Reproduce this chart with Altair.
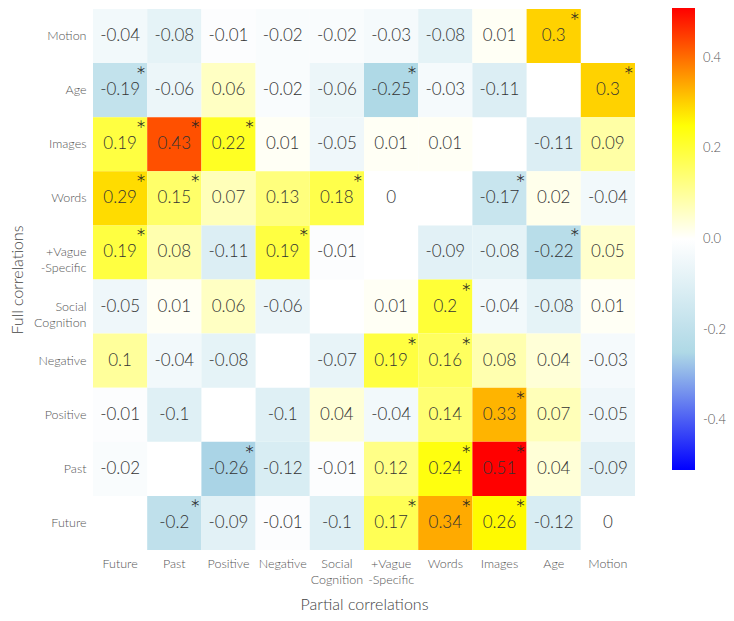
import altair as alt
import pandas as pd

cols = ["Future", "Past", "Positive", "Negative", "Social\nCognition",
        "+Vague\n-Specific", "Words", "Images", "Age", "Motion"]
rows = list(reversed(cols))  # top to bottom

N = None
values = {
    "Motion":            [-0.04, -0.08, -0.01, -0.02, -0.02, -0.03, -0.08, 0.01, 0.3, N],
    "Age":               [-0.19, -0.06, 0.06, -0.02, -0.06, -0.25, -0.03, -0.11, N, 0.3],
    "Images":            [0.19, 0.43, 0.22, 0.01, -0.05, 0.01, 0.01, N, -0.11, 0.09],
    "Words":             [0.29, 0.15, 0.07, 0.13, 0.18, 0, N, -0.17, 0.02, -0.04],
    "+Vague\n-Specific": [0.19, 0.08, -0.11, 0.19, -0.01, N, -0.09, -0.08, -0.22, 0.05],
    "Social\nCognition": [-0.05, 0.01, 0.06, -0.06, N, 0.01, 0.2, -0.04, -0.08, 0.01],
    "Negative":          [0.1, -0.04, -0.08, N, -0.07, 0.19, 0.16, 0.08, 0.04, -0.03],
    "Positive":          [-0.01, -0.1, N, -0.1, 0.04, -0.04, 0.14, 0.33, 0.07, -0.05],
    "Past":              [-0.02, N, -0.26, -0.12, -0.01, 0.12, 0.24, 0.51, 0.04, -0.09],
    "Future":            [N, -0.2, -0.09, -0.01, -0.1, 0.17, 0.34, 0.26, -0.12, 0],
}
stars = {
    "Motion":            [0, 0, 0, 0, 0, 0, 0, 0, 1, 0],
    "Age":               [1, 0, 0, 0, 0, 1, 0, 0, 0, 1],
    "Images":            [1, 1, 1, 0, 0, 0, 0, 0, 0, 0],
    "Words":             [1, 1, 0, 0, 1, 0, 0, 1, 0, 0],
    "+Vague\n-Specific": [1, 0, 0, 1, 0, 0, 0, 0, 1, 0],
    "Social\nCognition": [0, 0, 0, 0, 0, 0, 1, 0, 0, 0],
    "Negative":          [0, 0, 0, 0, 0, 1, 1, 0, 0, 0],
    "Positive":          [0, 0, 0, 0, 0, 0, 0, 1, 0, 0],
    "Past":              [0, 0, 1, 0, 0, 0, 1, 1, 0, 0],
    "Future":            [0, 1, 0, 0, 0, 1, 1, 1, 0, 0],
}

recs = []
for r in rows:
    for j, c in enumerate(cols):
        v = values[r][j]
        if v is None:
            continue
        recs.append({"row": r, "col": c, "value": v,
                     "label": f"{v:g}", "star": "*" if stars[r][j] else ""})
df = pd.DataFrame(recs)

FONT = "Lato"
vmax = 0.51
color_scale = alt.Scale(domain=[-vmax, -vmax / 2, 0, vmax / 2, vmax],
                        range=["#0000ff", "#add8e6", "#ffffff", "#ffff00", "#ff0000"],
                        interpolate="rgb")

axis_common = dict(ticks=False, domain=False, labelFontSize=12.5, labelColor="#555",
                   labelFontWeight=300, labelLineHeight=16,
                   labelExpr="split(datum.label, '\\n')",
                   titleFontSize=16, titleColor="#444", titleFontWeight=300,
                   labelFont=FONT, titleFont=FONT)

x_enc = alt.X("col:N", sort=cols,
              axis=alt.Axis(title="Partial correlations", labelAngle=0, labelPadding=7,
                            titlePadding=11, **axis_common))
y_enc = alt.Y("row:N", sort=rows,
              axis=alt.Axis(title="Full correlations", labelPadding=7,
                            titlePadding=8, **axis_common))

base = alt.Chart(df)

rect = base.mark_rect().encode(
    x=x_enc, y=y_enc,
    color=alt.Color("value:Q", scale=color_scale,
                    legend=alt.Legend(title=None, orient="none", legendX=579, legendY=-1,
                                      direction="vertical", gradientLength=462,
                                      gradientThickness=23, gradientStrokeWidth=0,
                                      values=[-0.4, -0.2, 0, 0.2, 0.4],
                                      labelExpr="replace(format(datum.value, '.1f'), '\u2212', '-')",
                                      labelFontSize=13, labelColor="#555", labelOffset=8,
                                      labelFontWeight=300, labelFont=FONT)),
)

text = base.mark_text(fontSize=17, font=FONT, fontWeight=300, color="#333").encode(
    x=alt.X("col:N", sort=cols), y=alt.Y("row:N", sort=rows), text="label:N")

star = base.mark_text(fontSize=26, font=FONT, fontWeight=300, color="#222",
                      dx=21, dy=-12).encode(
    x=alt.X("col:N", sort=cols), y=alt.Y("row:N", sort=rows), text="star:N")

chart = (rect + text + star).properties(
    width=542, height=541,
    autosize=alt.AutoSizeParams(type="none"),
    padding={"left": 85, "top": 1, "right": 91, "bottom": 63},
).configure_view(stroke=None).configure_scale(bandPaddingInner=0)

chart.save("out.html", embed_options={"renderer": "svg", "actions": False})
